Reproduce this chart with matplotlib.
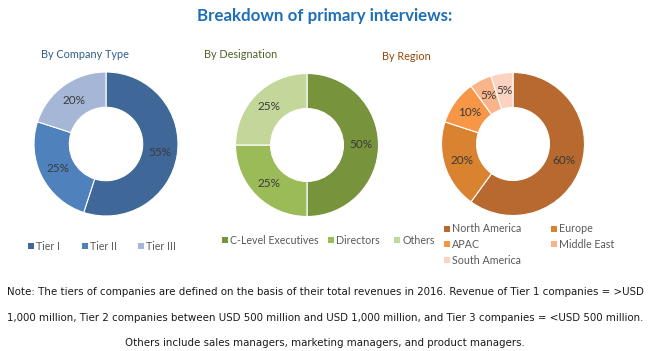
import matplotlib
matplotlib.use("Agg")
import matplotlib.pyplot as plt
from matplotlib.patches import Rectangle

# data
company_labels = ["Tier I", "Tier II", "Tier III"]
company_values = [55, 25, 20]
designation_labels = ["C-Level Executives", "Directors", "Others"]
designation_values = [50, 25, 25]
region_labels = ["North America", "Europe", "APAC", "Middle East", "South America"]
region_values = [60, 20, 10, 5, 5]

company_colors = ["#3F6797", "#4F81BD", "#A6B6D6"]
designation_colors = ["#77933C", "#9BBB59", "#C4D79B"]
region_colors = ["#B7692F", "#D9822F", "#F79646", "#F9B48A", "#FBD3C0"]

W, H = 650, 351
fig = plt.figure(figsize=(W / 100, H / 100), dpi=100)
plt.rcParams["font.family"] = ["Lato", "DejaVu Sans"]


def fx(x):
    return x / W


def fy(y):
    return 1 - y / H


def donut(cx, cy, r, values, colors):
    ax = fig.add_axes([fx(cx - r), fy(cy + r), 2 * r / W, 2 * r / H])
    ax.pie(values, colors=colors, startangle=90, counterclock=False, radius=1,
           wedgeprops=dict(width=0.49, edgecolor="white", linewidth=0.8),
           autopct=lambda p: f"{p:.0f}%", pctdistance=0.755,
           textprops=dict(fontsize=8.5, color="#3A3A3A"))
    ax.set_xlim(-1, 1)
    ax.set_ylim(-1, 1)
    ax.axis("off")
    return ax


def legend_item(x, y, label, color):
    fig.patches.append(Rectangle((fx(x - 3), fy(y + 3)), 6 / W, 6 / H,
                                 transform=fig.transFigure, facecolor=color,
                                 edgecolor="none"))
    fig.text(fx(x + 5), fy(y), label, fontsize=7.7, color="#595959",
             va="center", ha="left")


fig.text(0.5, fy(16), "Breakdown of primary interviews:", ha="center", va="center",
         fontsize=12.2, fontweight="bold", color="#1F6FB7")

fig.text(fx(85), fy(55), "By Company Type", ha="center", va="center", fontsize=7.8,
         color="#2F5C8C")
fig.text(fx(241), fy(55), "By Designation", ha="center", va="center", fontsize=7.8,
         color="#4F6228")
fig.text(fx(406), fy(56), "By Region", ha="center", va="center", fontsize=7.8,
         color="#984807")

donut(106, 144, 72, company_values, company_colors)
donut(307, 145, 71.5, designation_values, designation_colors)
donut(513, 144, 71.5, region_values, region_colors)

# legends
for x, lab, col in zip([31, 85, 141], company_labels, company_colors):
    legend_item(x, 246, lab, col)
for x, lab, col in zip([225, 331, 397], designation_labels, designation_colors):
    legend_item(x, 240, lab, col)
region_pos = [(447, 229), (554, 229), (447, 244), (554, 244), (447, 260)]
for (x, y), lab, col in zip(region_pos, region_labels, region_colors):
    legend_item(x, y, lab, col)

note = ["Note: The tiers of companies are defined on the basis of their total revenues in 2016. Revenue of Tier 1 companies = >USD",
        "1,000 million, Tier 2 companies between USD 500 million and USD 1,000 million, and Tier 3 companies = <USD 500 million.",
        "Others include sales managers, marketing managers, and product managers."]
for y, line in zip([292, 318, 343], note):
    fig.text(0.5, fy(y), line, ha="center", va="center", fontsize=8.2,
             family="DejaVu Sans", fontstretch="condensed", color="#1A1A1A")

fig.savefig("out.png", dpi=100, facecolor="white")
